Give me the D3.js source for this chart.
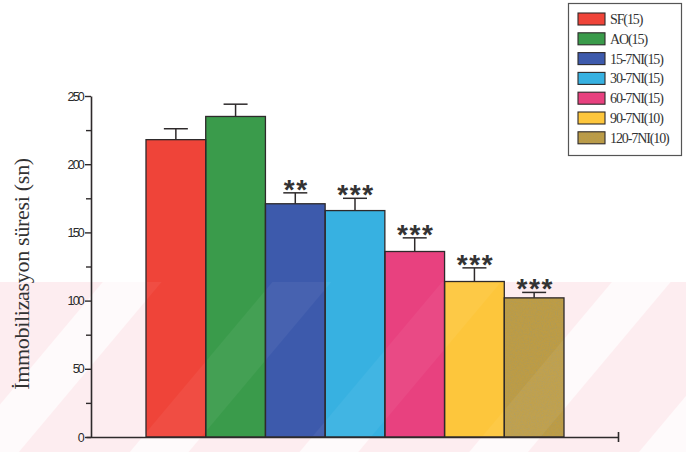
<!DOCTYPE html>
<html>
<head>
<meta charset="utf-8">
<script src="https://cdn.jsdelivr.net/npm/d3@7"></script>
<style>
  html, body { margin: 0; padding: 0; background: #ffffff; }
  svg { display: block; }
</style>
</head>
<body>
<svg id="chart" width="686" height="452"></svg>
<script>
// Groups (n per group) and immobility time, mean ± SEM (seconds)
const groups = ["SF(15)", "AO(15)", "15-7NI(15)", "30-7NI(15)", "60-7NI(15)", "90-7NI(10)", "120-7NI(10)"];
const means  = [218, 235, 171, 166, 136, 114, 102];
const sems   = [8, 9, 8, 9, 10, 10, 4];
const signif = ["", "", "**", "***", "***", "***", "***"];
const colors = ["#ef4439", "#3a9b4b", "#3d5aac", "#37b1e1", "#e8417f", "#fdc63c", "#bd9c45"];
const grained = [false, false, false, false, false, false, true];
const yTicks = [0, 50, 100, 150, 200, 250];
const yMinorTicks = [25, 75, 125, 175, 225];
const yLabel = "İmmobilizasyon süresi (sn)";

const svg = d3.select("#chart");
const ink = "#2e2a2b";

const y = d3.scaleLinear().domain([0, 250]).range([437, 96]);
const x = d3.scaleBand().domain(groups).range([146, 564]).padding(0);

const defs = svg.append("defs");

// Speckled grain laid over the fill of the last group
const grainFilter = defs.append("filter").attr("id", "grain")
  .attr("x", 0).attr("y", 0).attr("width", 1).attr("height", 1);
grainFilter.append("feTurbulence").attr("type", "fractalNoise")
  .attr("baseFrequency", 0.85).attr("numOctaves", 2).attr("seed", 4).attr("result", "noise");
grainFilter.append("feColorMatrix").attr("in", "noise").attr("type", "matrix")
  .attr("values", "0 0 0 0 0.42  0 0 0 0 0.32  0 0 0 0 0.1  0 0 0 2.2 -0.95")
  .attr("result", "specks");
grainFilter.append("feComposite").attr("in", "specks").attr("in2", "SourceGraphic")
  .attr("operator", "in").attr("result", "clipped");
const merge = grainFilter.append("feMerge");
merge.append("feMergeNode").attr("in", "SourceGraphic");
merge.append("feMergeNode").attr("in", "clipped");

// Soft diagonal stripes of the paper background
const stripes = defs.append("pattern").attr("id", "stripes")
  .attr("patternUnits", "userSpaceOnUse").attr("width", 130).attr("height", 130)
  .attr("patternTransform", "rotate(40)");
stripes.append("rect").attr("width", 45).attr("height", 130).attr("fill", "#ffffff");

svg.append("rect").attr("x", 0).attr("y", 282).attr("width", 686).attr("height", 170)
  .attr("fill", "#fdedf0");
svg.append("rect").attr("x", 0).attr("y", 282).attr("width", 686).attr("height", 170)
  .attr("fill", "url(#stripes)").attr("opacity", 0.7);

// Bar fills
svg.append("g").selectAll("rect")
  .data(groups)
  .join("rect")
  .attr("x", d => x(d))
  .attr("y", (d, i) => y(means[i]))
  .attr("width", x.bandwidth())
  .attr("height", (d, i) => y(0) - y(means[i]))
  .attr("fill", (d, i) => colors[i])
  .attr("filter", (d, i) => grained[i] ? "url(#grain)" : null);

// Faint sheen over the lower part of the bars
svg.append("g").selectAll("rect")
  .data(groups)
  .join("rect")
  .attr("x", d => x(d) + 1)
  .attr("y", (d, i) => Math.max(282, y(means[i]) + 1))
  .attr("width", x.bandwidth() - 2)
  .attr("height", (d, i) => y(0) - 1 - Math.max(282, y(means[i]) + 1))
  .attr("fill", "url(#stripes)")
  .attr("opacity", 0.05);

// Bar outlines
svg.append("g").selectAll("rect")
  .data(groups)
  .join("rect")
  .attr("x", d => x(d))
  .attr("y", (d, i) => y(means[i]))
  .attr("width", x.bandwidth())
  .attr("height", (d, i) => y(0) - y(means[i]))
  .attr("fill", "none")
  .attr("stroke", ink)
  .attr("stroke-width", 1.3);

// Error bars (mean + SEM)
const capHalf = 12;
const err = svg.append("g").attr("stroke", ink).attr("stroke-width", 1.5);
groups.forEach((g, i) => {
  const cx = x(g) + x.bandwidth() / 2;
  err.append("line").attr("x1", cx).attr("x2", cx)
    .attr("y1", y(means[i])).attr("y2", y(means[i] + sems[i]));
  err.append("line").attr("x1", cx - capHalf).attr("x2", cx + capHalf)
    .attr("y1", y(means[i] + sems[i])).attr("y2", y(means[i] + sems[i]));
});

// Significance marks
svg.append("g").selectAll("text")
  .data(groups)
  .join("text")
  .attr("x", d => x(d) + x.bandwidth() / 2 + 1)
  .attr("y", (d, i) => y(means[i] + sems[i]) + 6)
  .attr("text-anchor", "middle")
  .attr("font-family", "'Liberation Sans', Arial, sans-serif")
  .attr("font-weight", "bold")
  .attr("font-size", 28)
  .attr("letter-spacing", 1.6)
  .attr("fill", "#333333")
  .text((d, i) => signif[i]);

// Y axis
const yAxis = svg.append("g").attr("transform", "translate(91,0)")
  .call(d3.axisLeft(y).tickValues(yTicks).tickSize(6).tickSizeOuter(0).tickPadding(2));
svg.append("g").attr("transform", "translate(91,0)")
  .call(d3.axisLeft(y).tickValues(yMinorTicks).tickSize(5).tickFormat(""))
  .call(g => g.select(".domain").remove());
svg.selectAll(".tick line").attr("stroke", ink).attr("stroke-width", 1.4);
yAxis.select(".domain").attr("stroke", ink).attr("stroke-width", 1.6);
yAxis.selectAll(".tick text")
  .attr("font-family", "'Liberation Sans', Arial, sans-serif")
  .attr("font-size", 12.5)
  .attr("letter-spacing", -1.8)
  .attr("fill", "#2a2a2a");

// X axis baseline with end tick
const xAxisScale = d3.scaleLinear().domain([0, 1]).range([86, 618]);
const xAxis = svg.append("g").attr("transform", `translate(0,${y(0)})`)
  .call(d3.axisBottom(xAxisScale).tickValues([1]).tickSize(5).tickFormat("").tickSizeOuter(0));
xAxis.select(".domain").attr("stroke", ink).attr("stroke-width", 1.6);
xAxis.selectAll(".tick line").attr("y1", -5).attr("stroke", ink).attr("stroke-width", 1.6);

// Y axis title
svg.append("text")
  .attr("transform", "translate(29,274) rotate(-90)")
  .attr("text-anchor", "middle")
  .attr("font-family", "'Liberation Serif', 'Times New Roman', serif")
  .attr("font-size", 22)
  .attr("letter-spacing", -0.3)
  .attr("fill", "#333333")
  .text(yLabel);

// Legend
const legend = svg.append("g");
legend.append("rect").attr("x", 568.5).attr("y", 3.5).attr("width", 113).attr("height", 152)
  .attr("fill", "#ffffff").attr("stroke", "#555555").attr("stroke-width", 1.2);
const rows = legend.selectAll("g.row")
  .data(groups)
  .join("g")
  .attr("class", "row")
  .attr("transform", (d, i) => `translate(578,${13 + i * 19.8})`);
rows.append("rect")
  .attr("width", 27).attr("height", 12)
  .attr("fill", (d, i) => colors[i])
  .attr("filter", (d, i) => grained[i] ? "url(#grain)" : null);
rows.append("rect")
  .attr("width", 27).attr("height", 12)
  .attr("fill", "none")
  .attr("stroke", ink).attr("stroke-width", 1.1);
rows.append("text")
  .attr("x", 32).attr("y", 11)
  .attr("font-family", "'Liberation Serif', 'Times New Roman', serif")
  .attr("font-size", 14)
  .attr("letter-spacing", -1.1)
  .attr("fill", "#333333")
  .text(d => d);
</script>
</body>
</html>
